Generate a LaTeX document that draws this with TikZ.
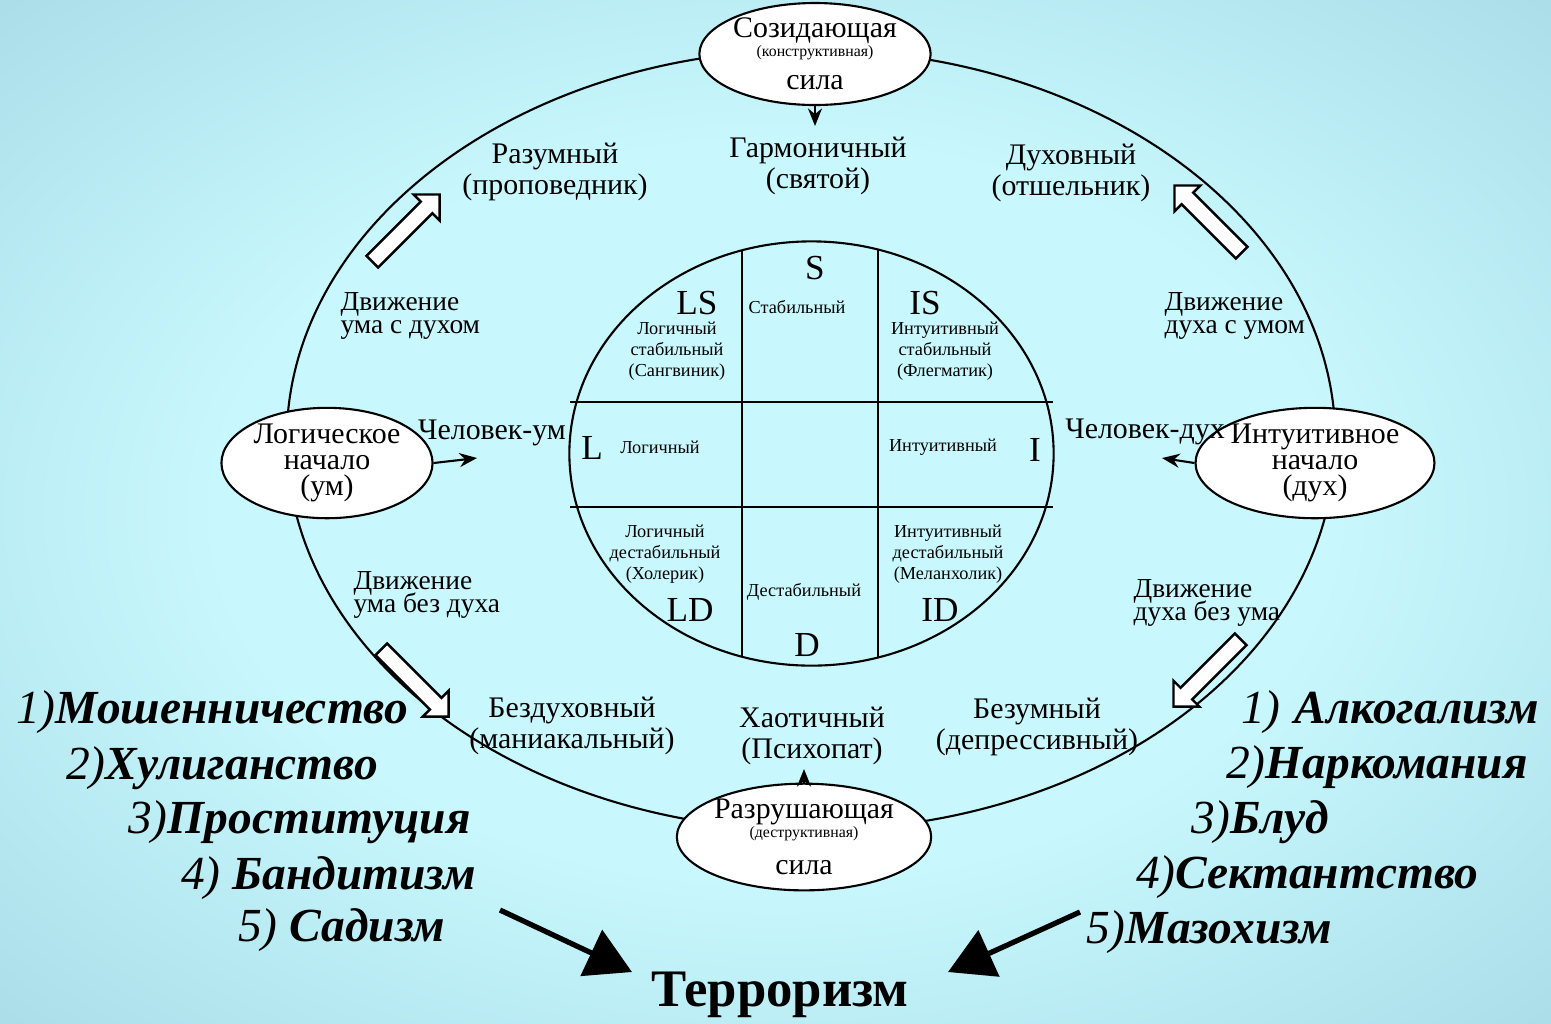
\documentclass[tikz,border=0pt]{standalone}
\usepackage{fontspec}
\setmainfont{Liberation Serif}
\usetikzlibrary{shapes.geometric,shapes.arrows,arrows.meta}

\definecolor{bgin}{HTML}{C8F8FD}
\definecolor{bgmid}{HTML}{A4D8E5}
\definecolor{bgdeep}{HTML}{86BACB}
\definecolor{bgout}{HTML}{6393A9}
\pgfdeclareradialshading{bgglow}{\pgfpoint{0bp}{0bp}}{color(0bp)=(bgin); color(18bp)=(bgin); color(39bp)=(bgmid); color(53bp)=(bgdeep); color(71bp)=(bgout)}
\newcommand{\tightlines}{\lineskiplimit=-100pt\relax}

\begin{document}
\begin{tikzpicture}[x=0.01cm, y=-0.01cm, line width=0.6pt,
  start/.style={ellipse, draw, fill=white, inner sep=0pt, align=center, font=\fontsize{8.5}{7.4}\selectfont\tightlines},
  lbl/.style={align=center, inner sep=1pt, font=\fontsize{8.5}{8.7}\selectfont},
  move/.style={align=left, anchor=west, inner sep=1pt, font=\fontsize{7.8}{6.8}\selectfont\tightlines},
  wee/.style={align=center, inner sep=0pt, font=\fontsize{5.2}{6}\selectfont},
  quad/.style={inner sep=0pt, font=\fontsize{10}{10}\selectfont},
  vice/.style={anchor=west, inner sep=0pt, font=\fontsize{13.5}{13.5}\selectfont\bfseries\itshape},
  bigarrow/.style={single arrow, draw, fill=white, line width=0.7pt, minimum height=0.95cm,
    inner sep=0.07cm, single arrow head extend=0.1cm},
  tip/.style={-{Stealth[length=5pt,width=4pt]}},
  heavy/.style={line width=1.5pt, -{Triangle[length=0.45cm,width=0.5cm]}}]

  \shade[shading=bgglow] (0,0) rectangle (1551,1023);
  \useasboundingbox (0,0) rectangle (1551,1023);

  % outer ring and the inner circle with its cells
  \draw (811,440) ellipse [x radius=5.24cm, y radius=3.90cm];
  \draw (811.5,453.5) ellipse [x radius=2.42cm, y radius=2.12cm];
  \draw (570,402) -- (1053,402);
  \draw (570,507) -- (1053,507);
  \draw (742,250) -- (742,657);
  \draw (878,250) -- (878,657);

  \node[quad] (s) at (815,268) {S};
  \node[wee] (stab) at (797,307) {Стабильный};
  \node[quad] (ls) at (697,303) {LS};
  \node[wee] (lsname) at (677,351) {Логичный\\стабильный\\(Сангвиник)};
  \node[quad] (is) at (925,303) {IS};
  \node[wee] (isname) at (945,351) {Интуитивный\\стабильный\\(Флегматик)};
  \node[quad] (l) at (592,448) {L};
  \node[wee] (lname) at (660,447) {Логичный};
  \node[wee] (iname) at (943,447) {Интуитивный};
  \node[quad] (i) at (1035,450) {I};
  \node[wee] (ldname) at (665,554) {Логичный\\дестабильный\\(Холерик)};
  \node[quad] (ld) at (690,610) {LD};
  \node[wee] (dstab) at (804,592) {Дестабильный};
  \node[quad] (d) at (807,645) {D};
  \node[wee] (idname) at (948,554) {Интуитивный\\дестабильный\\(Меланхолик)};
  \node[quad] (id) at (940,610) {ID};

  % the four beginnings
  \node[start, minimum width=2.14cm, minimum height=0.88cm] (sozid) at (815,54)
    {Созидающая\\[-2pt]{\fontsize{4.5}{4.5}\selectfont (конструктивная)}\\[2pt]сила};
  \node[start, minimum width=1.98cm, minimum height=0.80cm] (razr) at (804,837)
    {Разрушающая\\[-2pt]{\fontsize{4.5}{4.5}\selectfont (деструктивная)}\\[3pt]сила};
  \node[start, minimum width=2.11cm, minimum height=0.98cm] (logic) at (327,463)
    {Логическое\\начало\\(ум)};
  \node[start, minimum width=2.16cm, minimum height=0.98cm] (intuit) at (1315,463)
    {Интуитивное\\начало\\(дух)};

  \node[lbl] (garm) at (818,166) {Гармоничный\\(святой)};
  \node[lbl] (razum) at (555,172) {Разумный\\(проповедник)};
  \node[lbl] (duh) at (1071,173) {Духовный\\(отшельник)};
  \node[lbl] (chaos) at (812,736) {Хаотичный\\(Психопат)};
  \node[lbl] (bezduh) at (572,726) {Бездуховный\\(маниакальный)};
  \node[lbl] (bezum) at (1037,727) {Безумный\\(депрессивный)};

  \node[move] (movus) at (336,316) {Движение\\ума с духом};
  \node[move] (movds) at (1160,316) {Движение\\духа с умом};
  \node[move] (movubd) at (349,595) {Движение\\ума без духа};
  \node[move] (movdbu) at (1129,603) {Движение\\духа без ума};
  \node[lbl] (chelum) at (492,433) {Человек-ум};
  \node[lbl] (cheldh) at (1145,432) {Человек-дух};

  \coordinate (umtip) at (477,458);
  \coordinate (dhtip) at (1162,458);
  \coordinate (garmtip) at (815,126);
  \coordinate (chaostip) at (804,769);
  \draw[tip] (logic.east) -- (umtip);
  \draw[tip] (intuit.west) -- (dhtip);
  \draw[tip] (sozid.south) -- (garmtip);
  \draw[tip] (razr.north) -- (chaostip);

  \node[bigarrow, rotate=45] (upl) at (403,231) {};
  \node[bigarrow, rotate=135] (upr) at (1211,222) {};
  \node[bigarrow, rotate=-45] (dnl) at (412,680) {};
  \node[bigarrow, rotate=-135] (dnr) at (1210,670) {};

  % the two lists
  \node[vice] (m1) at (15,712) {\textmd{1)}Мошенничество};
  \node[vice] (m2) at (65,768) {\textmd{2)}Хулиганство};
  \node[vice] (m3) at (127,822) {\textmd{3)}Проституция};
  \node[vice] (m4) at (180,878) {\textmd{4) }Бандитизм};
  \node[vice] (m5) at (237,930) {\textmd{5) }Садизм};

  \node[vice] (a1) at (1240,712) {\textmd{1)}\hspace{0.3em}Алкогализм};
  \node[vice] (a2) at (1225,767) {\textmd{2)}Наркомания};
  \node[vice] (a3) at (1190,822) {\textmd{3)}Блуд};
  \node[vice] (a4) at (1135,877) {\textmd{4)}Сектантство};
  \node[vice] (a5) at (1085,932) {\textmd{5)}Мазохизм};

  \node[inner sep=0pt, font=\fontsize{15}{15}\selectfont\bfseries] (terror) at (780,995) {Терроризм};
  \coordinate (lstart) at (500,910);
  \coordinate (lend) at (632,972);
  \coordinate (rstart) at (1080,912);
  \coordinate (rend) at (948,972);
  \draw[heavy] (lstart) -- (lend);
  \draw[heavy] (rstart) -- (rend);
\end{tikzpicture}
\end{document}
